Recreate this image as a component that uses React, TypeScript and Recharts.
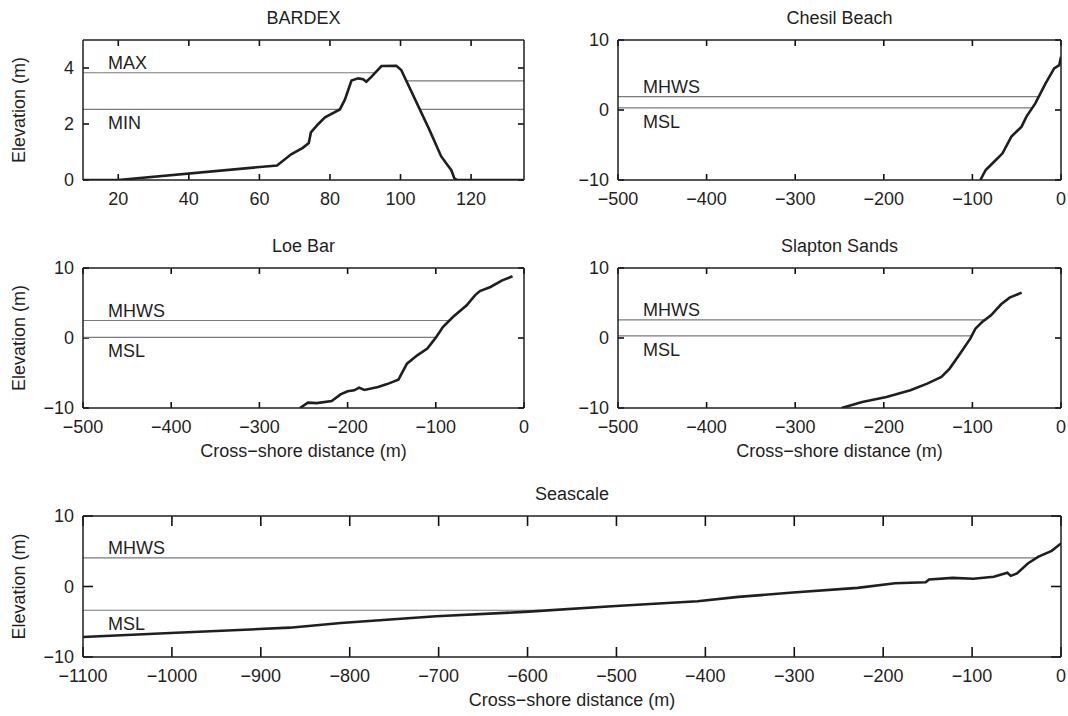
import React from "react";
import { LineChart, Line, XAxis, YAxis, ReferenceLine } from "recharts";

const FONT = '"Liberation Sans", Arial, Helvetica, sans-serif';
const INK = "#1f1f1f";
const GREY = "#7a7a7a";
const X_LABEL = "Cross\u2212shore distance (m)";
const Y_LABEL = "Elevation (m)";

// BARDEX (flume) profile, distance (m) / elevation (m)
const bardexDist = [10, 20, 65, 69, 72.3, 74, 74.6, 76.7, 78.6, 82.8, 84.2, 86.1, 88, 89.4, 90.3, 91.8, 94.6, 98.8, 100.2, 108.2, 111.5, 113.2, 114.4, 115.3, 116, 135];
const bardexElev = [0, 0, 0.52, 0.92, 1.15, 1.32, 1.7, 2.0, 2.24, 2.52, 2.86, 3.55, 3.63, 3.6, 3.51, 3.69, 4.07, 4.08, 3.93, 1.79, 0.85, 0.55, 0.35, 0.05, 0, 0];
const bardexLevelElev = [3.83, 3.54, 2.52, 2.52];
const bardexLevelFrom = [10, 101.7, 10, 105.7];
const bardexLevelTo = [92.6, 135, 82.8, 135];
const bardexLevelName = ["MAX", "", "MIN", ""];

// Chesil Beach
const chesilDist = [-91, -85, -73.5, -66, -56, -44.5, -39, -29, -17.4, -7.7, -2, 0];
const chesilElev = [-10, -8.57, -7.14, -6.19, -3.8, -2.38, -0.95, 0.95, 3.8, 5.95, 6.4, 7.6];
const chesilLevelElev = [1.9, 0.3];
const chesilLevelTo = [-25, -32.5];

// Loe Bar
const loeDist = [-254, -245, -235, -218, -208, -200, -192.5, -187, -181, -165.5, -156, -142.4, -132.7, -121, -109.6, -100, -92, -80.6, -65, -55.6, -50, -38, -24.7, -13];
const loeElev = [-10, -9.24, -9.3, -9.0, -8.05, -7.6, -7.47, -7.09, -7.43, -7.0, -6.62, -5.95, -3.67, -2.48, -1.52, 0.05, 1.57, 3.0, 4.67, 6.1, 6.71, 7.29, 8.24, 8.81];
const loeLevelElev = [2.5, 0.1];
const loeLevelTo = [-85, -100];

// Slapton Sands
const slaptonDist = [-247.6, -224.4, -197, -170, -151, -135, -125.7, -114, -102.4, -96.6, -89, -79, -67.6, -58, -44.4];
const slaptonElev = [-10, -9.14, -8.43, -7.47, -6.52, -5.57, -4.37, -2.24, -0.09, 1.33, 2.29, 3.24, 4.81, 5.77, 6.48];
const slaptonLevelElev = [2.6, 0.3];
const slaptonLevelTo = [-84, -101];

// Seascale
const seascaleDist = [-1100, -1001.6, -867.6, -810, -702.8, -603.3, -500.7, -408.8, -362.8, -301.5, -228.8, -186.7, -152.2, -148.4, -121.6, -98.6, -75.6, -60.3, -56.5, -49.5, -37.3, -25.8, -10.5, 0];
const seascaleElev = [-7.17, -6.6, -5.84, -5.17, -4.22, -3.6, -2.76, -2.09, -1.47, -0.86, -0.19, 0.47, 0.61, 1.0, 1.23, 1.09, 1.37, 1.94, 1.51, 1.85, 3.27, 4.21, 5.06, 6.11];
const seascaleLevelElev = [4.07, -3.37];
const seascaleLevelTo = [-27, -585];

const tideNames = ["MHWS", "MSL"];

const bardexTicks = [20, 40, 60, 80, 100, 120];
const bardexYTicks = [0, 2, 4];
const fieldTicks = [-500, -400, -300, -200, -100, 0];
const seascaleTicks = [-1100, -1000, -900, -800, -700, -600, -500, -400, -300, -200, -100, 0];
const fieldYTicks = [-10, 0, 10];

const fmt = (v: number) => (v < 0 ? `\u2212${Math.abs(v)}` : `${v}`);

// gap between the box and the tick labels
const X_GAP = 12;
const Y_GAP = 9;
const TICK_INK = "#111";

function BottomLabel({ x, y, payload }: any) {
  return (
    <text x={x} y={y} dy="0.71em" textAnchor="middle" fill={INK} fontSize={18} fontFamily={FONT}>
      {fmt(payload.value)}
    </text>
  );
}

function LeftLabel({ x, y, payload }: any) {
  return (
    <text x={x} y={y} dy="0.355em" textAnchor="end" fill={INK} fontSize={18} fontFamily={FONT}>
      {fmt(payload.value)}
    </text>
  );
}

function LevelLabel({ viewBox, text, above }: any) {
  if (!viewBox || !text) return null;
  return (
    <text
      x={viewBox.x + 25}
      y={above ? viewBox.y - 4 : viewBox.y + 20}
      fill={INK}
      fontSize={18}
      fontFamily={FONT}
    >
      {text}
    </text>
  );
}

type Level = { z: number; from: number; to: number; name: string };

type PanelProps = {
  left: number;
  top: number;
  width: number;
  height: number;
  // plot-box edges inside the chart
  box: { top: number; right: number; bottom: number; left: number };
  title: string;
  xDomain: [number, number];
  xTicks: number[];
  yDomain: [number, number];
  yTicks: number[];
  tickLen: number;
  dist: number[];
  elev: number[];
  levels: Level[];
  xLabel?: string;
  yLabel?: string;
};

function Panel(p: PanelProps) {
  const data = p.dist.map((x, i) => ({ x, z: p.elev[i] }));
  const axisLine = { stroke: INK, strokeWidth: 1.5 };
  const textProps = { fill: INK, fontSize: 18, fontFamily: FONT };
  // axes need a non-zero size to be drawn, so each one takes 1px of the margin
  const margin = {
    top: p.box.top - 1,
    right: p.box.right - 1,
    bottom: p.box.bottom - 1,
    left: p.box.left - 1,
  };

  // inward tick marks (MATLAB style), tick length converted to data units
  const [x0, x1] = p.xDomain;
  const [y0, y1] = p.yDomain;
  const plotW = p.width - p.box.left - p.box.right;
  const plotH = p.height - p.box.top - p.box.bottom;
  const dy = (p.tickLen * (y1 - y0)) / plotH;
  const dx = (p.tickLen * (x1 - x0)) / plotW;
  const tickMarks: { a: { x: number; y: number }; b: { x: number; y: number } }[] = [];
  p.xTicks.forEach((v) => {
    tickMarks.push({ a: { x: v, y: y0 }, b: { x: v, y: y0 + dy } });
    tickMarks.push({ a: { x: v, y: y1 }, b: { x: v, y: y1 - dy } });
  });
  p.yTicks.forEach((v) => {
    tickMarks.push({ a: { x: x0, y: v }, b: { x: x0 + dx, y: v } });
    tickMarks.push({ a: { x: x1, y: v }, b: { x: x1 - dx, y: v } });
  });

  return (
    <div style={{ position: "absolute", left: p.left, top: p.top }}>
      <LineChart width={p.width} height={p.height} margin={margin}>
        <XAxis
          dataKey="x"
          type="number"
          domain={p.xDomain}
          ticks={p.xTicks}
          interval={0}
          allowDataOverflow
          height={1}
          tickSize={0}
          tickMargin={X_GAP}
          tickLine={false}
          tick={(t: any) => <BottomLabel {...t} />}
          axisLine={axisLine}
          label={p.xLabel ? { value: p.xLabel, position: "bottom", offset: 35, ...textProps } : undefined}
        />
        <XAxis
          xAxisId="top"
          orientation="top"
          type="number"
          domain={p.xDomain}
          ticks={p.xTicks}
          interval={0}
          allowDataOverflow
          height={1}
          tickSize={0}
          tickLine={false}
          tick={false}
          axisLine={axisLine}
          label={{ value: p.title, position: "top", offset: 15, ...textProps }}
        />
        <YAxis
          type="number"
          domain={p.yDomain}
          ticks={p.yTicks}
          interval={0}
          allowDataOverflow
          width={1}
          tickSize={0}
          tickMargin={Y_GAP}
          tickLine={false}
          tick={(t: any) => <LeftLabel {...t} />}
          axisLine={axisLine}
          label={
            p.yLabel
              ? { value: p.yLabel, angle: -90, position: "left", offset: 63, style: { textAnchor: "middle" }, ...textProps }
              : undefined
          }
        />
        <YAxis
          yAxisId="right"
          orientation="right"
          type="number"
          domain={p.yDomain}
          ticks={p.yTicks}
          interval={0}
          allowDataOverflow
          width={1}
          tickSize={0}
          tickLine={false}
          tick={false}
          axisLine={axisLine}
        />
        {tickMarks.map((t, i) => (
          <ReferenceLine
            key={`t${i}`}
            segment={[t.a, t.b]}
            stroke={TICK_INK}
            strokeWidth={1.6}
            ifOverflow="visible"
          />
        ))}
        {p.levels.map((lv, i) => (
          <ReferenceLine
            key={i}
            segment={[
              { x: lv.from, y: lv.z },
              { x: lv.to, y: lv.z },
            ]}
            stroke={GREY}
            strokeWidth={1.2}
            label={<LevelLabel text={lv.name} above={lv.name === "MAX" || lv.name === "MHWS"} />}
          />
        ))}
        <Line
          data={data}
          dataKey="z"
          type="linear"
          stroke={INK}
          strokeWidth={2.6}
          dot={false}
          activeDot={false}
          isAnimationActive={false}
        />
      </LineChart>
    </div>
  );
}

const tideLevels = (elev: number[], to: number[], from: number): Level[] =>
  elev.map((z, i) => ({ z, from, to: to[i], name: tideNames[i] }));

export default function App() {
  const bardexLevels: Level[] = bardexLevelElev.map((z, i) => ({
    z,
    from: bardexLevelFrom[i],
    to: bardexLevelTo[i],
    name: bardexLevelName[i],
  }));

  return (
    <div
      style={{
        position: "absolute",
        left: 0,
        top: 0,
        width: 1068,
        height: 716,
        background: "#fff",
        fontFamily: FONT,
      }}
    >
      <Panel
        left={0}
        top={0}
        width={534}
        height={232}
        box={{ top: 40, right: 10, bottom: 52, left: 83 }}
        title="BARDEX"
        xDomain={[10, 135]}
        xTicks={bardexTicks}
        yDomain={[0, 5]}
        yTicks={bardexYTicks}
        tickLen={6}
        dist={bardexDist}
        elev={bardexElev}
        levels={bardexLevels}
        yLabel={Y_LABEL}
      />
      <Panel
        left={534}
        top={0}
        width={534}
        height={232}
        box={{ top: 40, right: 7, bottom: 52, left: 84 }}
        title="Chesil Beach"
        xDomain={[-500, 0]}
        xTicks={fieldTicks}
        yDomain={[-10, 10]}
        yTicks={fieldYTicks}
        tickLen={6}
        dist={chesilDist}
        elev={chesilElev}
        levels={tideLevels(chesilLevelElev, chesilLevelTo, -500)}
      />
      <Panel
        left={0}
        top={232}
        width={534}
        height={240}
        box={{ top: 36, right: 10, bottom: 64, left: 83 }}
        title="Loe Bar"
        xDomain={[-500, 0]}
        xTicks={fieldTicks}
        yDomain={[-10, 10]}
        yTicks={fieldYTicks}
        tickLen={6}
        dist={loeDist}
        elev={loeElev}
        levels={tideLevels(loeLevelElev, loeLevelTo, -500)}
        xLabel={X_LABEL}
        yLabel={Y_LABEL}
      />
      <Panel
        left={534}
        top={232}
        width={534}
        height={240}
        box={{ top: 36, right: 7, bottom: 64, left: 84 }}
        title="Slapton Sands"
        xDomain={[-500, 0]}
        xTicks={fieldTicks}
        yDomain={[-10, 10]}
        yTicks={fieldYTicks}
        tickLen={6}
        dist={slaptonDist}
        elev={slaptonElev}
        levels={tideLevels(slaptonLevelElev, slaptonLevelTo, -500)}
        xLabel={X_LABEL}
      />
      <Panel
        left={0}
        top={472}
        width={1068}
        height={244}
        box={{ top: 44, right: 7, bottom: 59, left: 83 }}
        title="Seascale"
        xDomain={[-1100, 0]}
        xTicks={seascaleTicks}
        yDomain={[-10, 10]}
        yTicks={fieldYTicks}
        tickLen={10}
        dist={seascaleDist}
        elev={seascaleElev}
        levels={tideLevels(seascaleLevelElev, seascaleLevelTo, -1100)}
        xLabel={X_LABEL}
        yLabel={Y_LABEL}
      />
    </div>
  );
}
